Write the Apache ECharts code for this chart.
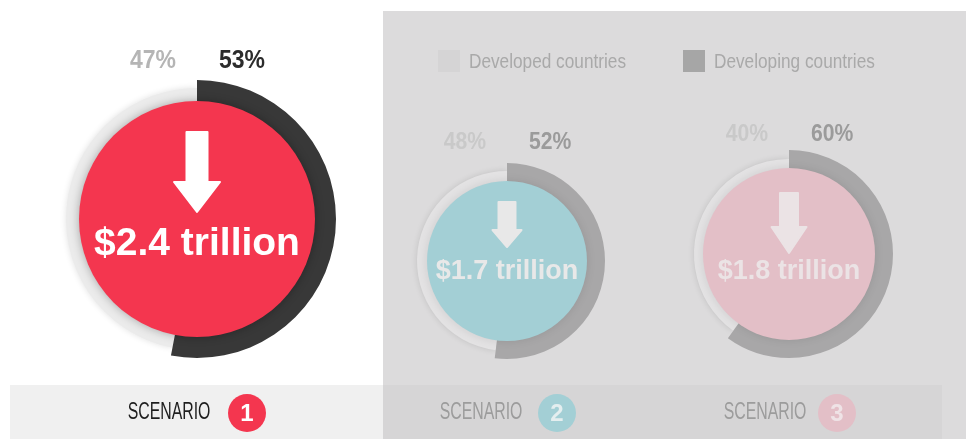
<!DOCTYPE html>
<html lang="en">
<head>
    <meta charset="UTF-8">
    <title>Scenarios</title>
    <script src="https://cdn.jsdelivr.net/npm/echarts@6/dist/echarts.min.js"></script>
    <style>
        html, body { margin: 0; padding: 0; background: #fff; }
        #chart { width: 966px; height: 439px; }
    </style>
</head>
<body>
    <div id="chart"></div>
    <script>
        // data
        var scenarioIds = ['1', '2', '3'];
        var scenarioLabel = 'SCENARIO';
        var legendNames = ['Developed countries', 'Developing countries'];
        var developed = [47, 48, 40];
        var developing = [53, 52, 60];
        var totals = ['$2.4 trillion', '$1.7 trillion', '$1.8 trillion'];

        // layout / look of each scenario block
        var blocks = [
            {cx: 197, cy: 219, rIn: 112, rLight: 131, rDark: 139, rFill: 118,
             fill: '#f4364f', dark: '#383838', light: '#ebebeb',
             pctDy: -158, pctSize: 25, pctLight: '#b5b5b5', pctDark: '#2c2c2c',
             totalDy: 25, totalSize: 39, textColor: '#ffffff',
             arrow: {sw: 10.5, hw: 23, t: -87, n: -37, p: -7},
             labelX: 169, labelColor: '#1e1e1e', badgeX: 247, badgeText: '#ffffff', shadow: 'rgba(0,0,0,0.3)'},
            {cx: 507, cy: 261, rIn: 78, rLight: 90, rDark: 98, rFill: 80,
             fill: '#a3cfd5', dark: '#a8a7a8', light: '#e3e2e3',
             pctDy: -118, pctSize: 23, pctLight: '#c9c9c9', pctDark: '#9b9b9b',
             totalDy: 11, totalSize: 27, textColor: '#e8e8e8',
             arrow: {sw: 8.5, hw: 14.5, t: -59, n: -31, p: -14},
             labelX: 481, labelColor: '#9c9c9c', badgeX: 557, badgeText: '#e4eeef', shadow: 'rgba(0,0,0,0.1)'},
            {cx: 789, cy: 254, rIn: 83, rLight: 95, rDark: 104, rFill: 86,
             fill: '#e3bfc7', dark: '#a8a7a8', light: '#e3e2e3',
             pctDy: -119, pctSize: 23, pctLight: '#c9c9c9', pctDark: '#9b9b9b',
             totalDy: 18, totalSize: 27, textColor: '#ebe3e5',
             arrow: {sw: 9, hw: 17.5, t: -61, n: -27, p: -1},
             labelX: 765, labelColor: '#9c9c9c', badgeX: 837, badgeText: '#efe3e6', shadow: 'rgba(0,0,0,0.1)'}
        ];
        var legendX = [438, 683];
        var legendColors = ['#d5d4d5', '#a6a6a6'];

        var myChart = echarts.init(document.getElementById('chart'));
        var series = [];
        var graphics = [
            {type: 'rect', z: 0, shape: {x: 383, y: 11, width: 583, height: 428}, style: {fill: '#dcdbdc'}},
            {type: 'rect', z: 0, shape: {x: 10, y: 385, width: 373, height: 54}, style: {fill: '#f0f0f0'}},
            {type: 'rect', z: 0, shape: {x: 383, y: 385, width: 559, height: 54}, style: {fill: '#d6d5d6'}}
        ];

        // legend (condensed text, so drawn by hand)
        for (var k = 0; k < legendNames.length; k++) {
            graphics.push({type: 'rect', z: 10, shape: {x: legendX[k], y: 50, width: 22, height: 22}, style: {fill: legendColors[k]}});
            graphics.push({
                type: 'text', z: 10, x: legendX[k] + 31, y: 62, scaleX: 0.82,
                style: {text: legendNames[k], fill: '#a9a9a9', font: '21px "Liberation Sans", Arial, sans-serif',
                        textAlign: 'left', textVerticalAlign: 'middle'}
            });
        }

        for (var i = 0; i < blocks.length; i++) {
            var b = blocks[i];
            // thin light ring (developed share)
            series.push({
                type: 'pie', silent: true, z: 2,
                center: [b.cx, b.cy], radius: [b.rIn, b.rLight],
                startAngle: 90, clockwise: true,
                label: {show: false}, labelLine: {show: false},
                emphasis: {disabled: true},
                data: [
                    {name: legendNames[1], value: developing[i], itemStyle: {color: 'rgba(0,0,0,0)'}},
                    {name: legendNames[0], value: developed[i], itemStyle: {color: b.light, shadowBlur: 6, shadowColor: 'rgba(0,0,0,0.12)'}}
                ]
            });
            // thick dark ring (developing share)
            series.push({
                type: 'pie', silent: true, z: 3,
                center: [b.cx, b.cy], radius: [b.rIn, b.rDark],
                startAngle: 90, clockwise: true,
                label: {show: false}, labelLine: {show: false},
                emphasis: {disabled: true},
                data: [
                    {name: legendNames[1], value: developing[i], itemStyle: {color: b.dark}},
                    {name: legendNames[0], value: developed[i], itemStyle: {color: 'rgba(0,0,0,0)'}}
                ]
            });
            // filled circle holding the total
            series.push({
                type: 'pie', silent: true, z: 4,
                center: [b.cx, b.cy], radius: [0, b.rFill],
                label: {show: false}, labelLine: {show: false},
                emphasis: {disabled: true},
                data: [{name: 'total', value: 1, itemStyle: {color: b.fill, shadowBlur: 10, shadowColor: b.shadow}}]
            });

            var a = b.arrow;
            graphics.push({
                type: 'polygon', z: 10, x: b.cx, y: b.cy,
                shape: {points: [[-a.sw, a.t], [a.sw, a.t], [a.sw, a.n], [a.hw, a.n], [0, a.p], [-a.hw, a.n], [-a.sw, a.n]]},
                style: {fill: b.textColor, lineJoin: 'round', stroke: b.textColor, lineWidth: 2}
            });
            graphics.push({
                type: 'text', z: 10, x: b.cx, y: b.cy + b.totalDy,
                style: {text: totals[i], fill: b.textColor, font: 'bold ' + b.totalSize + 'px "Liberation Sans", Arial, sans-serif',
                        textAlign: 'center', textVerticalAlign: 'middle'}
            });
            graphics.push({
                type: 'text', z: 10, x: b.cx - 21, y: b.cy + b.pctDy, scaleX: 0.92,
                style: {text: developed[i] + '%', fill: b.pctLight, font: 'bold ' + b.pctSize + 'px "Liberation Sans", Arial, sans-serif',
                        textAlign: 'right', textVerticalAlign: 'middle'}
            });
            graphics.push({
                type: 'text', z: 10, x: b.cx + 22, y: b.cy + b.pctDy, scaleX: 0.92,
                style: {text: developing[i] + '%', fill: b.pctDark, font: 'bold ' + b.pctSize + 'px "Liberation Sans", Arial, sans-serif',
                        textAlign: 'left', textVerticalAlign: 'middle'}
            });
            // scenario tab
            graphics.push({
                type: 'text', z: 10, x: b.labelX, y: 412, scaleX: 0.66,
                style: {text: scenarioLabel, fill: b.labelColor, font: '24px "Liberation Sans", Arial, sans-serif',
                        textAlign: 'center', textVerticalAlign: 'middle'}
            });
            graphics.push({
                type: 'circle', z: 10, shape: {cx: b.badgeX, cy: 413, r: 19}, style: {fill: b.fill}
            });
            graphics.push({
                type: 'text', z: 11, x: b.badgeX, y: 414,
                style: {text: scenarioIds[i], fill: b.badgeText, font: 'bold 24px "Liberation Sans", Arial, sans-serif',
                        textAlign: 'center', textVerticalAlign: 'middle'}
            });
        }

        var option = {
            animation: false,
            graphic: {elements: graphics},
            series: series
        };
        myChart.setOption(option);
    </script>
</body>
</html>
